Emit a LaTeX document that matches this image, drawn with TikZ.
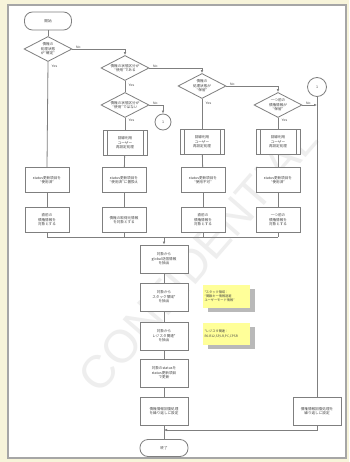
\documentclass[tikz,border=0pt]{standalone}
\usepackage{fontspec}
\setmainfont{Liberation Sans}
\newfontfamily\jp{Noto Sans CJK JP}
\usetikzlibrary{shapes.geometric,arrows.meta,calc,shadows}

\definecolor{lineg}{HTML}{7F7F7F}
\definecolor{txtg}{HTML}{444444}
\definecolor{cream}{HTML}{F7F4DA}
\definecolor{notey}{HTML}{FFFF99}

\tikzset{
  base/.style={draw=lineg, line width=0.8pt, fill=white, text=txtg,
    font=\jp\fontsize{3.6}{4.5}\selectfont, align=center, inner sep=0pt},
  box/.style={base, rectangle, minimum width=44pt, minimum height=25pt},
  mainbox/.style={base, rectangle, minimum width=48pt, minimum height=28pt},
  sub/.style={box, path picture={
    \draw[lineg, line width=0.6pt]
      ([xshift=4pt]path picture bounding box.north west) --
      ([xshift=4pt]path picture bounding box.south west)
      ([xshift=-4pt]path picture bounding box.north east) --
      ([xshift=-4pt]path picture bounding box.south east);}},
  dec/.style={base, diamond, aspect=2, minimum width=48pt, minimum height=25pt},
  term/.style={base, rectangle, rounded corners=8pt, minimum width=47pt, minimum height=18pt},
  onpage/.style={base, circle, minimum size=16pt},
  note/.style={rectangle, fill=notey, text=txtg, font=\jp\fontsize{3.2}{4.2}\selectfont,
    align=left, inner sep=2pt, minimum width=47pt, minimum height=23pt, text width=43pt,
    drop shadow={shadow xshift=5pt, shadow yshift=-4pt, fill=gray!55, opacity=1}},
  lbl/.style={text=txtg, font=\fontsize{3.4}{4}\selectfont, inner sep=0.5pt},
  flow/.style={draw=lineg, line width=0.8pt},
  arr/.style={flow, -{Latex[length=3pt,width=2.6pt]}},
}

\begin{document}
\begin{tikzpicture}[x=1pt,y=-1pt]
\useasboundingbox (0,0) rectangle (349,462);
% page background and frame
\fill[cream] (0,0) rectangle (349,462);
\filldraw[fill=white, draw=gray!70, line width=1.2pt] (8,5) rectangle (346,458);

% watermark
\node[text=gray!13, font=\fontsize{46}{46}\selectfont, rotate=49] (wm) at (198,258) {CONFIDENTIAL};

% ---- top decisions ----
\node[term] (start) at (48,21) {開始};
\node[dec] (d1) at (48,49) {債権の\\処理状態\\が“確定”};
\node[dec] (d2) at (125,68) {債権の状態区分が\\“使用”である};
\node[dec] (d3) at (125,105) {債権の状態区分が\\“使用”ではない};
\node[onpage] (c1) at (163,122) {1};
\node[dec] (d4) at (202,86) {債権の\\処理状態が\\“保留”};
\node[dec] (d5) at (278,105) {一つ前の\\債権情報が\\“保留”};
\node[onpage, minimum size=19pt] (cR) at (317,87) {1};

% ---- branch columns ----
\node[sub] (s2) at (125,143) {回線利用\\ユーザー\\再設定処理};
\node[sub] (s3) at (202,142) {回線利用\\ユーザー\\再設定処理};
\node[sub] (s4) at (278,142) {回線利用\\ユーザー\\再設定処理};

\node[box] (u1) at (47,180) {status更新項目を\\“使用済”};
\node[box] (u2) at (124,180) {status更新項目を\\“使用済”に置換え};
\node[box] (u3) at (203,180) {status更新項目を\\“使用不可”};
\node[box] (u4) at (278,180) {status更新項目を\\“使用済”};

\node[box] (l1) at (47,220) {直前の\\債権情報を\\対象とする};
\node[box] (l2) at (124,220) {債権の取得元情報\\を対象とする};
\node[box] (l3) at (203,220) {直前の\\債権情報を\\対象とする};
\node[box] (l4) at (278,220) {一つ前の\\債権情報を\\対象とする};

% ---- main column ----
\node[mainbox] (m1) at (164,259) {対象から\\global送信情報\\を抽出};
\node[mainbox] (m2) at (164,297) {対象から\\スタック領域*\\を抽出};
\node[mainbox] (m3) at (164,336) {対象から\\レジスタ関連*\\を抽出};
\node[mainbox] (m4) at (164,373) {対象のstatusを\\status更新項目\\で更新};
\node[mainbox] (m5) at (164,411) {債権情報回復処理\\を繰り返しに設定};
\node[term, minimum width=48pt, minimum height=17pt] (end) at (164,448) {終了};
\node[mainbox] (r1) at (317,411) {債権情報回復処理を\\繰り返しに設定};

% notes
\node[note] (n1) at (226,296) {*スタック領域：\\“関数キー情報退避\\ユーザーモード情報”};
\node[note, minimum height=22pt] (n2) at (226,334) {*レジスタ関連：\\R0-R12,SP,LR,PC,CPSR};

% junction points
\coordinate (mg) at (164,237);
\coordinate (jn) at (164,430);

% ---- connectors ----
\draw[flow] (start) -- (d1);
\draw[arr] (d1.east) -| (d2.north);
\draw[flow] (d1.south) -- (u1.north);
\draw[arr] (d2.east) -| (d4.north);
\draw[flow] (d2.south) -- (d3.north);
\draw[arr] (d3.east) -| (c1.north);
\draw[flow] (d3.south) -- (s2.north);
\draw[arr] (d4.east) -| (d5.north);
\draw[flow] (d4.south) -- (s3.north);
\draw[arr] (d5.east) -- (d5.east -| cR.south);
\draw[flow] (d5.south) -- (s4.north);
\draw[flow] (cR.south) -- (r1.north);

\draw[flow] (s2) -- (u2);
\draw[flow] (s3) -- (u3);
\draw[flow] (s4) -- (u4);
\foreach \i in {1,2,3,4} {
  \draw[flow] (u\i) -- (l\i);
  \draw[flow] (l\i.south) -- (l\i.south |- mg);
}
\draw[flow] (l1.south |- mg) -- (l4.south |- mg);
\draw[arr] (mg) -- (m1.north);
\draw[flow] (m1) -- (m2);
\draw[flow] (m2) -- (m3);
\draw[flow] (m3) -- (m4);
\draw[flow] (m4) -- (m5);
\draw[flow] (m5.south) -- (end.north);
\draw[arr] (r1.south) |- (jn);

% Yes / No labels
\node[lbl, anchor=south west] (y1n) at ([xshift=3pt]d1.east) {No};
\node[lbl, anchor=north west] (y1y) at ([xshift=3pt,yshift=-3pt]d1.south) {Yes};
\node[lbl, anchor=south west] (y2n) at ([xshift=3pt]d2.east) {No};
\node[lbl, anchor=north west] (y2y) at ([xshift=3pt,yshift=-3pt]d2.south) {Yes};
\node[lbl, anchor=south west] (y3n) at ([xshift=3pt]d3.east) {No};
\node[lbl, anchor=north west] (y3y) at ([xshift=3pt,yshift=-1pt]d3.south) {Yes};
\node[lbl, anchor=south west] (y4n) at ([xshift=3pt]d4.east) {No};
\node[lbl, anchor=north west] (y4y) at ([xshift=3pt,yshift=-3pt]d4.south) {Yes};
\node[lbl, anchor=south west] (y5n) at ([xshift=3pt]d5.east) {No};
\node[lbl, anchor=north west] (y5y) at ([xshift=3pt,yshift=-1pt]d5.south) {Yes};
\end{tikzpicture}
\end{document}
